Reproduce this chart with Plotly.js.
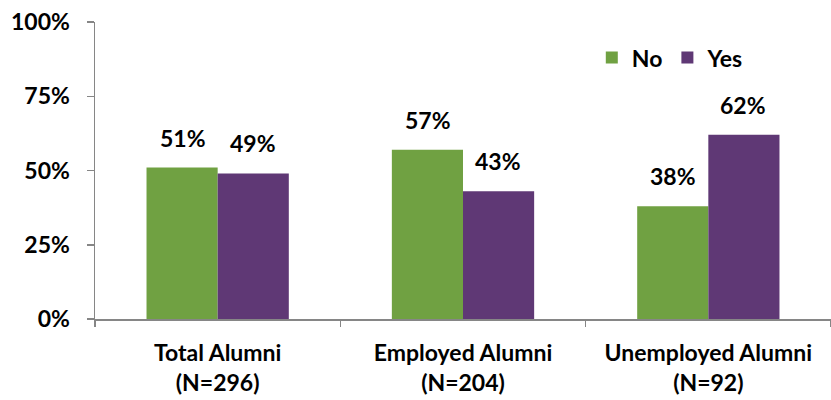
<!DOCTYPE html>
<html><head><meta charset="utf-8">
<script src="https://cdn.plot.ly/plotly-3.0.1.min.js"></script>
<style>html,body{margin:0;padding:0;background:#fff}</style>
</head><body>
<div id="chart" style="width:831px;height:400px"></div>
<script>
const categories = ["Total Alumni<br>(N=296)", "Employed Alumni<br>(N=204)", "Unemployed Alumni<br>(N=92)"];
const noValues = [51, 57, 38];
const yesValues = [49, 43, 62];
const yTickVals = [0, 25, 50, 75, 100];
const yTickText = ["0%", "25%", "50%", "75%", "100%"];

const FONT = "Lato, 'Open Sans', sans-serif";
const green = "#70a142";
const purple = "#5f3875";

const traces = [
  {type: "bar", name: "No", x: categories, y: noValues, marker: {color: green}, hoverinfo: "none"},
  {type: "bar", name: "Yes", x: categories, y: yesValues, marker: {color: purple}, hoverinfo: "none"}
];

const annotations = [];
categories.forEach((c, i) => {
  annotations.push({x: c, y: noValues[i], xref: "x", yref: "y", text: "<b>" + noValues[i] + "%</b>",
    showarrow: false, xshift: -35, yshift: 30, font: {family: FONT, size: 23, color: "#000"}});
  annotations.push({x: c, y: yesValues[i], xref: "x", yref: "y", text: "<b>" + yesValues[i] + "%</b>",
    showarrow: false, xshift: 35, yshift: 30, font: {family: FONT, size: 23, color: "#000"}});
});

const layout = {
  width: 831, height: 400,
  margin: {l: 95, r: 0, t: 22, b: 81},
  paper_bgcolor: "#fff", plot_bgcolor: "#fff",
  barmode: "group", bargap: 0.42, bargroupgap: 0,
  font: {family: FONT, size: 23, color: "#000", weight: "bold"},
  showlegend: true,
  legend: {orientation: "h", x: 0.675, y: 0.88, xanchor: "left", yanchor: "middle",
    font: {family: FONT, size: 23, weight: "bold"}, itemwidth: 30, tracegroupgap: 0,
    bgcolor: "rgba(0,0,0,0)"},
  xaxis: {type: "category", showgrid: false, zeroline: false, showline: true,
    linecolor: "#868686", linewidth: 1.5, ticks: "outside", tickson: "boundaries",
    ticklen: 6, tickcolor: "#868686", tickwidth: 1.5, ticklabelstandoff: 13,
    tickfont: {family: FONT, size: 23, weight: "bold"}},
  yaxis: {range: [0, 100], tickvals: yTickVals, ticktext: yTickText, showgrid: false,
    zeroline: false, showline: true, linecolor: "#868686", linewidth: 1.5,
    ticks: "outside", ticklen: 7, tickcolor: "#868686", tickwidth: 1.5,
    ticklabelstandoff: 12, tickfont: {family: FONT, size: 23, weight: "bold"}},
  annotations: annotations
};

Plotly.newPlot("chart", traces, layout, {staticPlot: true, displayModeBar: false});
</script>
</body></html>
